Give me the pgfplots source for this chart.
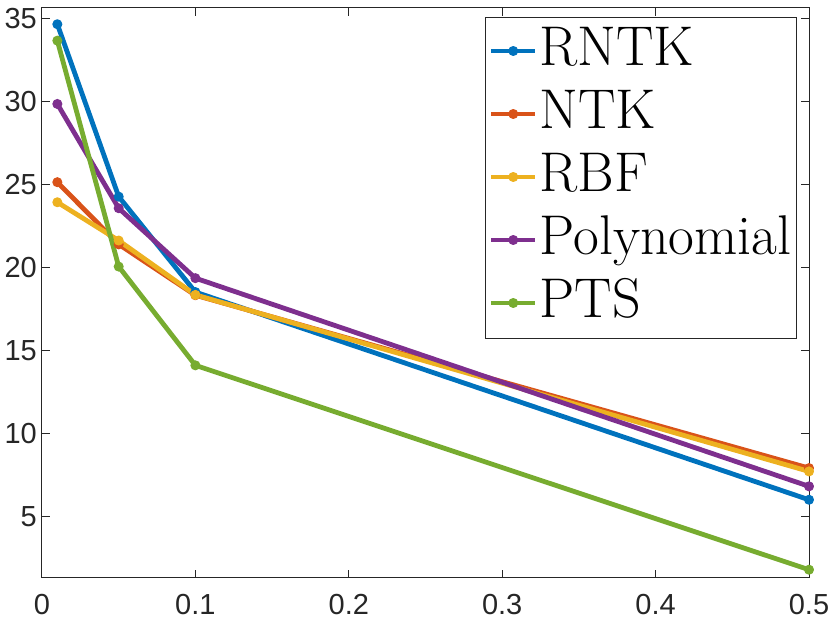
\documentclass[border=0pt]{standalone}
\usepackage{fontspec}
\setsansfont{Liberation Sans}
\usepackage{pgfplots}
\pgfplotsset{compat=1.18}
\definecolor{c1}{rgb}{0,0.447,0.741}
\definecolor{c2}{rgb}{0.85,0.325,0.098}
\definecolor{c3}{rgb}{0.929,0.694,0.125}
\definecolor{c4}{rgb}{0.494,0.184,0.556}
\definecolor{c5}{rgb}{0.466,0.674,0.188}
\definecolor{axc}{rgb}{0.15,0.15,0.15}
\begin{document}
\begin{tikzpicture}
\begin{axis}[
  name=ax,
  scale only axis,
  width=767pt, height=570pt,
  xmin=0, xmax=0.5, ymin=1.27, ymax=35.66,
  xtick={0,0.1,0.2,0.3,0.4,0.5},
  xticklabels={0,0.1,0.2,0.3,0.4,0.5},
  ytick={5,10,15,20,25,30,35},
  yticklabels={5,10,15,20,25,30,35},
  tick align=inside,
  major tick length=8pt,
  axis line style={axc, line width=1pt},
  every tick/.style={axc, line width=1pt},
  tick label style={font=\sffamily\fontsize{29}{29}\selectfont, text=axc},
  xticklabel style={inner ysep=16pt, inner xsep=0pt},
  yticklabel style={inner xsep=5pt, inner ysep=0pt},
  /pgf/number format/assume math mode=true,
  every axis plot/.append style={line width=4.8pt, mark=*, mark size=4.5pt, line join=round, mark options={solid, line width=1pt}},
  legend image code/.code={\draw[mark repeat=2,mark phase=2,#1] plot coordinates {(0pt,1pt)(22pt,1pt)(44pt,1pt)};},
  legend cell align=left,
  legend style={at={(1,1)}, anchor=north east, xshift=-12pt, yshift=-9pt,
    draw=axc, line width=1pt, inner xsep=3pt, inner ysep=3pt,
    font=\fontsize{56}{63}\selectfont,
    nodes={inner ysep=5pt, inner xsep=2pt, text height=40pt, text depth=13pt}},
]
\addplot[c1] coordinates {(0.01,34.68) (0.05,24.28) (0.1,18.52) (0.5,5.99)};
\addlegendentry{RNTK}
\addplot[c2] coordinates {(0.01,25.15) (0.05,21.40) (0.1,18.33) (0.5,7.90)};
\addlegendentry{NTK}
\addplot[c3] coordinates {(0.01,23.94) (0.05,21.63) (0.1,18.35) (0.5,7.70)};
\addlegendentry{RBF}
\addplot[c4] coordinates {(0.01,29.87) (0.05,23.58) (0.1,19.36) (0.5,6.80)};
\addlegendentry{Polynomial}
\addplot[c5] coordinates {(0.01,33.69) (0.05,20.06) (0.1,14.10) (0.5,1.77)};
\addlegendentry{PTS}
\end{axis}
\pgfresetboundingbox
\path ([xshift=-42pt,yshift=-45pt]ax.south west) rectangle ([xshift=21pt,yshift=8pt]ax.north east);
\end{tikzpicture}
\end{document}
